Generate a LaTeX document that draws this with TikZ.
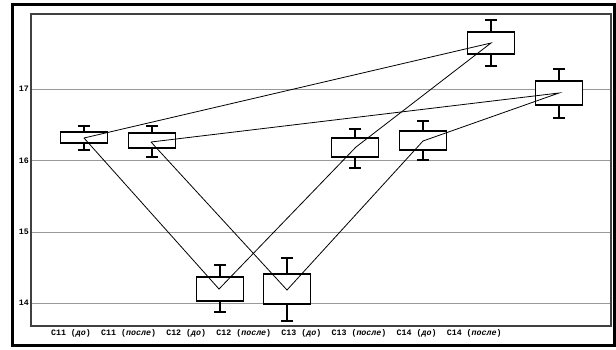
\documentclass[tikz,border=0pt]{standalone}
\usepackage{fontspec}
\setmonofont{Liberation Mono}
\usetikzlibrary{positioning}

\begin{document}
\begin{tikzpicture}[x=1pt, y=-1pt,
  box/.style={draw, line width=1.7pt, fill=white},
  whisker/.style={line width=1.7pt},
  link/.style={line width=0.8pt},
  gridline/.style={black!40, line width=0.8pt},
  lbl/.style={font=\ttfamily\bfseries\fontsize{8.3}{9}\selectfont, inner sep=0pt}]
\useasboundingbox (0,0) rectangle (616,349);
\draw[line width=3pt] (12.5,4) rectangle (614,345);
\draw[gridline] (31,89) -- (611,89);
\draw[gridline] (31,160.5) -- (611,160.5);
\draw[gridline] (31,232) -- (611,232);
\draw[gridline] (31,303) -- (611,303);
\draw[black!75, line width=1.3pt] (31,14) rectangle (611,326);
\node[lbl, anchor=east] (t17) at (29,89) {17};
\node[lbl, anchor=east] (t16) at (29,160.5) {16};
\node[lbl, anchor=east] (t15) at (29,232) {15};
\node[lbl, anchor=east] (t14) at (29,303) {14};
% boxes
\draw[box] (60.5,132) rectangle (107.5,143);
\draw[whisker] (84,132) -- (84,126) (78,126) -- (90,126) (84,143) -- (84,150) (78,150) -- (90,150);
\draw[box] (128.5,133) rectangle (175.5,148);
\draw[whisker] (152,133) -- (152,126) (146,126) -- (158,126) (152,148) -- (152,157) (146,157) -- (158,157);
\draw[box] (196.5,277) rectangle (243.5,301);
\draw[whisker] (220,277) -- (220,265) (214,265) -- (226,265) (220,301) -- (220,312) (214,312) -- (226,312);
\draw[box] (263.5,274) rectangle (310.5,304);
\draw[whisker] (287,274) -- (287,258) (281,258) -- (293,258) (287,304) -- (287,321) (281,321) -- (293,321);
\draw[box] (331.5,138) rectangle (378.5,157);
\draw[whisker] (355,138) -- (355,129) (349,129) -- (361,129) (355,157) -- (355,168) (349,168) -- (361,168);
\draw[box] (399.5,131) rectangle (446.5,150);
\draw[whisker] (423,131) -- (423,121) (417,121) -- (429,121) (423,150) -- (423,160) (417,160) -- (429,160);
\draw[box] (467.5,32) rectangle (514.5,54);
\draw[whisker] (491,32) -- (491,20) (485,20) -- (497,20) (491,54) -- (491,66) (485,66) -- (497,66);
\draw[box] (535.5,81) rectangle (582.5,105);
\draw[whisker] (559,81) -- (559,69) (553,69) -- (565,69) (559,105) -- (559,118) (553,118) -- (565,118);
% means
\coordinate (c11d) at (84,138);
\coordinate (c11p) at (151,142);
\coordinate (c12d) at (219,289);
\coordinate (c12p) at (287,290);
\coordinate (c13d) at (356,147);
\coordinate (c13p) at (423,141);
\coordinate (c14d) at (491,43);
\coordinate (c14p) at (559,93);
\draw[link] (c11d) -- (c12d) -- (c13d) -- (c14d) -- (c11d);
\draw[link] (c11p) -- (c12p) -- (c13p) -- (c14p) -- (c11p);
% labels
\node[lbl] (n1) at (71,333) {C11 (\textit{до})};
\node[lbl] (n2) at (128.6,333) {C11 (\textit{после})};
\node[lbl] (n3) at (186.2,333) {C12 (\textit{до})};
\node[lbl] (n4) at (243.8,333) {C12 (\textit{после})};
\node[lbl] (n5) at (301.4,333) {C13 (\textit{до})};
\node[lbl] (n6) at (359,333) {C13 (\textit{после})};
\node[lbl] (n7) at (416.6,333) {C14 (\textit{до})};
\node[lbl] (n8) at (474.2,333) {C14 (\textit{после})};
\end{tikzpicture}
\end{document}
